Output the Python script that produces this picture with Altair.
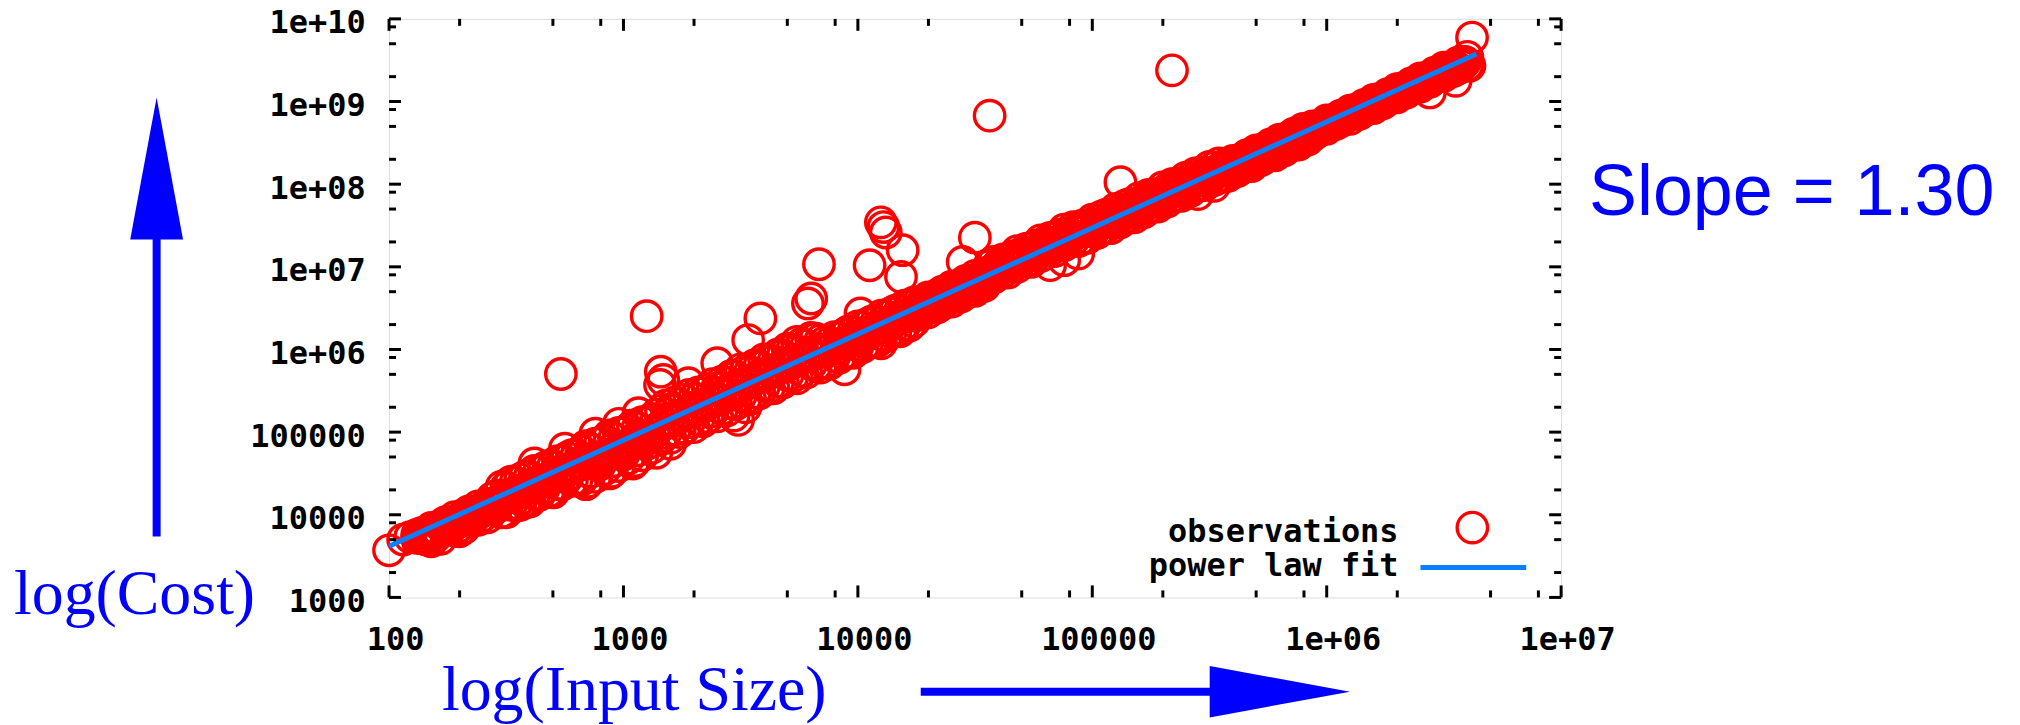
import altair as alt
import pandas as pd

# ---------------- data (log10 units) ----------------
# dense band of observations: one column every 0.02 decade of input size,
# with an upper and a lower reading of the cost per column
band_log_size = [
    2.12, 2.14, 2.16, 2.18, 2.20, 2.22, 2.24, 2.26, 2.28, 2.30,
    2.32, 2.34, 2.36, 2.38, 2.40, 2.42, 2.44, 2.46, 2.48, 2.50,
    2.52, 2.54, 2.56, 2.58, 2.60, 2.62, 2.64, 2.66, 2.68, 2.70,
    2.72, 2.74, 2.76, 2.78, 2.80, 2.82, 2.84, 2.86, 2.88, 2.90,
    2.92, 2.94, 2.96, 2.98, 3.00, 3.02, 3.04, 3.06, 3.08, 3.10,
    3.12, 3.14, 3.16, 3.18, 3.20, 3.22, 3.24, 3.26, 3.28, 3.30,
    3.32, 3.34, 3.36, 3.38, 3.40, 3.42, 3.44, 3.46, 3.48, 3.50,
    3.52, 3.54, 3.56, 3.58, 3.60, 3.62, 3.64, 3.66, 3.68, 3.70,
    3.72, 3.74, 3.76, 3.78, 3.80, 3.82, 3.84, 3.86, 3.88, 3.90,
    3.92, 3.94, 3.96, 3.98, 4.00, 4.02, 4.04, 4.06, 4.08, 4.10,
    4.12, 4.14, 4.16, 4.18, 4.20, 4.22, 4.24, 4.26, 4.28, 4.30,
    4.32, 4.34, 4.36, 4.38, 4.40, 4.42, 4.44, 4.46, 4.48, 4.50,
    4.52, 4.54, 4.56, 4.58, 4.60, 4.62, 4.64, 4.66, 4.68, 4.70,
    4.72, 4.74, 4.76, 4.78, 4.80, 4.82, 4.84, 4.86, 4.88, 4.90,
    4.92, 4.94, 4.96, 4.98, 5.00, 5.02, 5.04, 5.06, 5.08, 5.10,
    5.12, 5.14, 5.16, 5.18, 5.20, 5.22, 5.24, 5.26, 5.28, 5.30,
    5.32, 5.34, 5.36, 5.38, 5.40, 5.42, 5.44, 5.46, 5.48, 5.50,
    5.52, 5.54, 5.56, 5.58, 5.60, 5.62, 5.64, 5.66, 5.68, 5.70,
    5.72, 5.74, 5.76, 5.78, 5.80, 5.82, 5.84, 5.86, 5.88, 5.90,
    5.92, 5.94, 5.96, 5.98, 6.00, 6.02, 6.04, 6.06, 6.08, 6.10,
    6.12, 6.14, 6.16, 6.18, 6.20, 6.22, 6.24, 6.26, 6.28, 6.30,
    6.32, 6.34, 6.36, 6.38, 6.40, 6.42, 6.44, 6.46, 6.48, 6.50,
    6.52, 6.54, 6.56, 6.58, 6.60,
]
band_log_cost_upper = [
    3.76, 3.78, 3.78, 3.84, 3.83, 3.87, 3.91, 3.91, 3.97, 3.95,
    4.00, 4.04, 4.04, 4.10, 4.08, 4.13, 4.20, 4.23, 4.34, 4.33,
    4.40, 4.39, 4.43, 4.46, 4.46, 4.53, 4.52, 4.56, 4.59, 4.59,
    4.65, 4.65, 4.69, 4.72, 4.72, 4.77, 4.83, 4.79, 4.86, 4.87,
    4.90, 4.96, 4.92, 4.99, 4.99, 5.03, 5.08, 5.05, 5.12, 5.12,
    5.16, 5.21, 5.26, 5.32, 5.27, 5.36, 5.34, 5.39, 5.45, 5.40,
    5.48, 5.47, 5.52, 5.58, 5.53, 5.61, 5.60, 5.68, 5.67, 5.76,
    5.74, 5.73, 5.81, 5.80, 5.88, 5.87, 5.86, 5.94, 5.93, 6.01,
    6.00, 5.98, 6.07, 6.05, 6.14, 6.13, 6.11, 6.09, 6.08, 6.15,
    6.14, 6.18, 6.22, 6.21, 6.28, 6.27, 6.31, 6.34, 6.34, 6.41,
    6.40, 6.44, 6.47, 6.47, 6.53, 6.53, 6.57, 6.57, 6.58, 6.63,
    6.62, 6.66, 6.70, 6.71, 6.76, 6.75, 6.79, 6.83, 6.83, 6.89,
    6.87, 6.92, 7.01, 7.06, 7.03, 7.09, 7.09, 7.13, 7.19, 7.16,
    7.22, 7.22, 7.26, 7.32, 7.28, 7.35, 7.35, 7.39, 7.45, 7.41,
    7.48, 7.47, 7.50, 7.50, 7.57, 7.56, 7.61, 7.63, 7.62, 7.70,
    7.69, 7.74, 7.76, 7.75, 7.83, 7.81, 7.87, 7.88, 7.88, 7.96,
    7.94, 8.00, 8.01, 8.01, 8.08, 8.07, 8.13, 8.14, 8.14, 8.21,
    8.20, 8.25, 8.22, 8.22, 8.28, 8.28, 8.31, 8.35, 8.34, 8.41,
    8.41, 8.44, 8.48, 8.47, 8.54, 8.53, 8.57, 8.61, 8.60, 8.67,
    8.66, 8.70, 8.70, 8.71, 8.77, 8.77, 8.78, 8.83, 8.84, 8.89,
    8.90, 8.90, 8.96, 8.97, 9.02, 9.03, 9.03, 9.09, 9.09, 9.15,
    9.16, 9.16, 9.22, 9.22, 9.28, 9.28, 9.29, 9.35, 9.35, 9.41,
    9.41, 9.42, 9.47, 9.48, 9.54,
]
band_log_cost_lower = [
    3.72, 3.72, 3.70, 3.68, 3.74, 3.71, 3.83, 3.83, 3.81, 3.86,
    3.84, 3.96, 3.96, 3.94, 3.99, 3.97, 4.08, 4.09, 4.03, 4.03,
    4.12, 4.11, 4.19, 4.15, 4.16, 4.25, 4.24, 4.32, 4.28, 4.29,
    4.37, 4.37, 4.45, 4.41, 4.42, 4.42, 4.37, 4.52, 4.46, 4.61,
    4.55, 4.50, 4.65, 4.59, 4.73, 4.68, 4.62, 4.78, 4.72, 4.86,
    4.81, 4.75, 4.92, 4.99, 4.93, 5.03, 5.00, 5.05, 5.12, 5.06,
    5.15, 5.13, 5.18, 5.25, 5.19, 5.28, 5.26, 5.35, 5.34, 5.44,
    5.41, 5.40, 5.48, 5.47, 5.56, 5.54, 5.53, 5.61, 5.60, 5.69,
    5.67, 5.65, 5.74, 5.72, 5.82, 5.80, 5.78, 5.84, 5.83, 5.92,
    5.90, 5.95, 5.97, 5.96, 6.05, 6.03, 6.08, 6.09, 6.09, 6.18,
    6.16, 6.21, 6.22, 6.22, 6.30, 6.29, 6.34, 6.42, 6.47, 6.45,
    6.51, 6.51, 6.55, 6.60, 6.58, 6.64, 6.64, 6.68, 6.72, 6.71,
    6.76, 6.77, 6.89, 6.87, 6.96, 6.94, 6.93, 7.01, 7.00, 7.09,
    7.07, 7.06, 7.14, 7.13, 7.21, 7.20, 7.19, 7.27, 7.26, 7.34,
    7.33, 7.31, 7.35, 7.35, 7.43, 7.41, 7.46, 7.48, 7.47, 7.56,
    7.54, 7.59, 7.61, 7.60, 7.69, 7.66, 7.72, 7.73, 7.73, 7.82,
    7.79, 7.85, 7.86, 7.86, 7.94, 7.92, 7.98, 7.99, 7.99, 8.07,
    8.05, 8.10, 8.09, 8.10, 8.16, 8.16, 8.20, 8.22, 8.22, 8.29,
    8.29, 8.33, 8.35, 8.35, 8.42, 8.41, 8.46, 8.48, 8.48, 8.55,
    8.54, 8.59, 8.63, 8.68, 8.67, 8.72, 8.73, 8.76, 8.81, 8.79,
    8.85, 8.85, 8.89, 8.94, 8.92, 8.98, 8.98, 9.02, 9.06, 9.05,
    9.11, 9.11, 9.15, 9.19, 9.18, 9.23, 9.24, 9.28, 9.32, 9.31,
    9.36, 9.37, 9.40, 9.45, 9.44,
]
# staggered columns between the ones above, one reading near the middle of the band
mid_log_size = [
    2.13, 2.15, 2.17, 2.19, 2.21, 2.23, 2.25, 2.27, 2.29, 2.31,
    2.33, 2.35, 2.37, 2.39, 2.41, 2.43, 2.45, 2.47, 2.49, 2.51,
    2.53, 2.55, 2.57, 2.59, 2.61, 2.63, 2.65, 2.67, 2.69, 2.71,
    2.73, 2.75, 2.77, 2.79, 2.81, 2.83, 2.85, 2.87, 2.89, 2.91,
    2.93, 2.95, 2.97, 2.99, 3.01, 3.03, 3.05, 3.07, 3.09, 3.11,
    3.13, 3.15, 3.17, 3.19, 3.21, 3.23, 3.25, 3.27, 3.29, 3.31,
    3.33, 3.35, 3.37, 3.39, 3.41, 3.43, 3.45, 3.47, 3.49, 3.51,
    3.53, 3.55, 3.57, 3.59, 3.61, 3.63, 3.65, 3.67, 3.69, 3.71,
    3.73, 3.75, 3.77, 3.79, 3.81, 3.83, 3.85, 3.87, 3.89, 3.91,
    3.93, 3.95, 3.97, 3.99, 4.01, 4.03, 4.05, 4.07, 4.09, 4.11,
    4.13, 4.15, 4.17, 4.19, 4.21, 4.23, 4.25, 4.27, 4.29, 4.31,
    4.33, 4.35, 4.37, 4.39, 4.41, 4.43, 4.45, 4.47, 4.49, 4.51,
    4.53, 4.55, 4.57, 4.59, 4.61, 4.63, 4.65, 4.67, 4.69, 4.71,
    4.73, 4.75, 4.77, 4.79, 4.81, 4.83, 4.85, 4.87, 4.89, 4.91,
    4.93, 4.95, 4.97, 4.99, 5.01, 5.03, 5.05, 5.07, 5.09, 5.11,
    5.13, 5.15, 5.17, 5.19, 5.21, 5.23, 5.25, 5.27, 5.29, 5.31,
    5.33, 5.35, 5.37, 5.39, 5.41, 5.43, 5.45, 5.47, 5.49, 5.51,
    5.53, 5.55, 5.57, 5.59, 5.61, 5.63, 5.65, 5.67, 5.69, 5.71,
    5.73, 5.75, 5.77, 5.79, 5.81, 5.83, 5.85, 5.87, 5.89, 5.91,
    5.93, 5.95, 5.97, 5.99, 6.01, 6.03, 6.05, 6.07, 6.09, 6.11,
    6.13, 6.15, 6.17, 6.19, 6.21, 6.23, 6.25, 6.27, 6.29, 6.31,
    6.33, 6.35, 6.37, 6.39, 6.41, 6.43, 6.45, 6.47, 6.49, 6.51,
    6.53, 6.55, 6.57, 6.59,
]
mid_log_cost = [
    3.72, 3.71, 3.78, 3.77, 3.81, 3.85, 3.84, 3.91, 3.90, 3.94,
    3.97, 3.97, 4.03, 4.03, 4.07, 4.10, 4.10, 4.16, 4.20, 4.24,
    4.23, 4.29, 4.29, 4.33, 4.37, 4.36, 4.41, 4.42, 4.46, 4.50,
    4.49, 4.54, 4.55, 4.58, 4.63, 4.61, 4.66, 4.63, 4.69, 4.69,
    4.73, 4.79, 4.76, 4.82, 4.82, 4.86, 4.92, 4.88, 4.95, 4.94,
    4.99, 5.05, 5.10, 5.16, 5.13, 5.20, 5.19, 5.23, 5.29, 5.26,
    5.33, 5.32, 5.36, 5.41, 5.39, 5.46, 5.45, 5.53, 5.57, 5.56,
    5.61, 5.62, 5.66, 5.70, 5.69, 5.74, 5.75, 5.78, 5.83, 5.82,
    5.87, 5.88, 5.91, 5.96, 5.94, 6.00, 6.00, 5.98, 6.03, 6.01,
    6.07, 6.07, 6.11, 6.15, 6.14, 6.20, 6.20, 6.24, 6.28, 6.27,
    6.32, 6.33, 6.37, 6.41, 6.40, 6.45, 6.46, 6.50, 6.55, 6.54,
    6.59, 6.60, 6.63, 6.68, 6.66, 6.72, 6.73, 6.76, 6.81, 6.79,
    6.85, 6.85, 6.95, 6.99, 6.98, 7.04, 7.04, 7.08, 7.12, 7.11,
    7.16, 7.17, 7.21, 7.25, 7.24, 7.29, 7.30, 7.33, 7.38, 7.37,
    7.42, 7.43, 7.43, 7.48, 7.46, 7.52, 7.53, 7.56, 7.61, 7.59,
    7.65, 7.65, 7.69, 7.74, 7.72, 7.78, 7.78, 7.82, 7.86, 7.85,
    7.91, 7.91, 7.95, 7.99, 7.98, 8.03, 8.04, 8.07, 8.12, 8.11,
    8.16, 8.17, 8.16, 8.21, 8.19, 8.25, 8.26, 8.29, 8.34, 8.32,
    8.38, 8.38, 8.42, 8.47, 8.45, 8.51, 8.51, 8.55, 8.59, 8.58,
    8.64, 8.64, 8.68, 8.71, 8.72, 8.77, 8.78, 8.81, 8.84, 8.85,
    8.90, 8.91, 8.93, 8.97, 8.97, 9.03, 9.04, 9.06, 9.10, 9.10,
    9.16, 9.16, 9.19, 9.23, 9.23, 9.29, 9.29, 9.32, 9.35, 9.36,
    9.42, 9.42, 9.45, 9.48,
]
# scattered observations: ragged band edges and the outliers
extra_log_size = [
    2.00, 2.06, 2.09, 2.30, 2.56, 2.70, 2.85, 2.95, 3.05, 3.20,
    3.47, 3.52, 2.62, 2.75, 2.88, 2.98, 4.82, 4.88, 4.94, 5.45,
    5.52, 6.44, 6.55,
    2.733, 3.099, 3.159, 3.156, 3.170, 3.277, 3.064, 3.400, 3.532, 3.584,
    3.740, 3.834, 3.801, 3.787, 3.943, 4.011, 4.050, 4.109, 4.098, 4.119,
    4.191, 4.184, 4.099, 4.499, 4.447, 3.489, 5.120, 4.562, 5.340, 6.620,
    6.609,
]
extra_log_cost = [
    3.57, 3.70, 3.73, 3.80, 4.12, 4.27, 4.40, 4.52, 4.65, 4.86,
    5.20, 5.30, 4.62, 4.80, 4.98, 5.10, 7.02, 7.08, 7.16, 7.88,
    7.98, 9.11, 9.25,
    5.703, 6.403, 5.731, 5.571, 5.631, 5.591, 5.229, 5.833, 6.114, 6.376,
    6.093, 7.031, 6.617, 6.557, 5.760, 6.436, 7.019, 7.481, 7.538, 7.415,
    7.201, 6.878, 6.074, 7.353, 7.059, 5.148, 8.024, 8.829, 9.377, 9.774,
    9.433,
]

# power law fit (end points)
fit_size = [100, 4350000]
fit_cost = [4160, 3750000000]

# axes
x_tick_values = [100, 1000, 10000, 100000, 1000000, 10000000]
x_tick_labels = ["100", "1000", "10000", "100000", "1e+06", "1e+07"]
y_tick_values = [1000, 10000, 100000, 1000000, 10000000, 100000000,
                 1000000000, 10000000000]
y_tick_labels = ["1000", "10000", "100000", "1e+06", "1e+07", "1e+08",
                 "1e+09", "1e+10"]
x_minor_values = [200, 500, 800, 2000, 5000, 8000, 20000, 50000, 80000,
                  200000, 500000, 800000, 2000000, 5000000, 8000000]
y_minor_values = [2000, 5000, 8000, 20000, 50000, 80000, 200000, 500000,
                  800000, 2000000, 5000000, 8000000, 20000000, 50000000,
                  80000000, 200000000, 500000000, 800000000, 2000000000,
                  5000000000, 8000000000]

legend_labels = ["observations", "power law fit"]
cost_label = ["log(Cost)"]
size_label = ["log(Input Size)"]
slope_label = ["Slope = 1.30"]

# ---------------- chart ----------------
W, H = 1175, 580
RED = "#ff0000"
FIT = "#0a80ff"
BLUE = "#0000ff"
MONO = "DejaVu Sans Mono"
RING = 930
RING_W = 3.4

all_size = band_log_size + band_log_size + mid_log_size + extra_log_size
all_cost = band_log_cost_upper + band_log_cost_lower + mid_log_cost + extra_log_cost
obs = pd.DataFrame({
    "size": [10 ** v for v in all_size],
    "cost": [10 ** v for v in all_cost],
})
fit_df = pd.DataFrame({"size": fit_size, "cost": fit_cost})

xs = alt.Scale(type="log", domain=[100, 10000000], nice=False)
ys = alt.Scale(type="log", domain=[1000, 10000000000], nice=False)


def label_expr(vals, labs):
    e = "''"
    for v, t in reversed(list(zip(vals, labs))):
        e = f"datum.value == {int(v)} ? '{t}' : ({e})"
    return e


common_axis = dict(title=None, grid=False, ticks=False, tickSize=0, domain=False,
                   labelFont=MONO, labelFontWeight="bold", labelFontSize=32,
                   labelColor="black", labelFlush=False, labelOverlap=False,
                   labelBound=False)
xaxis = alt.Axis(values=x_tick_values, labelExpr=label_expr(x_tick_values, x_tick_labels),
                 labelPadding=27, labelOffset=6, **common_axis)
yaxis = alt.Axis(values=y_tick_values, labelExpr=label_expr(y_tick_values, y_tick_labels),
                 labelPadding=24, labelOffset=4, **common_axis)

X = lambda f: alt.X(f, scale=xs, axis=xaxis)
Y = lambda f: alt.Y(f, scale=ys, axis=yaxis)

points = alt.Chart(obs).mark_point(
    shape="circle", filled=False, size=RING, strokeWidth=RING_W, color=RED, opacity=1
).encode(x=X("size:Q"), y=Y("cost:Q"))

fit_line = alt.Chart(fit_df).mark_line(color=FIT, strokeWidth=5).encode(
    x=X("size:Q"), y=Y("cost:Q"))

layers = [points, fit_line]


def xticks(values, length):
    df = pd.DataFrame({"v": values})
    base = alt.Chart(df).mark_rule(color="black", strokeWidth=3)
    return [
        base.encode(x=X("v:Q"), y=alt.value(H), y2=alt.value(H - length)),
        base.encode(x=X("v:Q"), y=alt.value(0), y2=alt.value(length)),
    ]


def yticks(values, length):
    df = pd.DataFrame({"v": values})
    base = alt.Chart(df).mark_rule(color="black", strokeWidth=3)
    return [
        base.encode(y=Y("v:Q"), x=alt.value(0), x2=alt.value(length)),
        base.encode(y=Y("v:Q"), x=alt.value(W), x2=alt.value(W - length)),
    ]


layers += xticks(x_tick_values, 12) + xticks(x_minor_values, 7)
layers += yticks(y_tick_values, 12) + yticks(y_minor_values, 7)

one = pd.DataFrame({"a": [0]})


def text_layer(txt, x, y, font, size, color, align="left", weight="normal"):
    return alt.Chart(pd.DataFrame({"t": txt})).mark_text(
        font=font, fontSize=size, color=color, align=align, baseline="alphabetic",
        fontWeight=weight
    ).encode(text="t:N", x=alt.value(x), y=alt.value(y))


# legend
layers.append(text_layer([legend_labels[0]], 1012, 524, MONO, 32, "black", "right", "bold"))
layers.append(text_layer([legend_labels[1]], 1012, 559, MONO, 32, "black", "right", "bold"))
layers.append(alt.Chart(one).mark_point(
    shape="circle", filled=False, size=RING, strokeWidth=RING_W, color=RED, opacity=1
).encode(x=alt.value(1086), y=alt.value(510)))
layers.append(alt.Chart(one).mark_rule(color=FIT, strokeWidth=5).encode(
    x=alt.value(1034), x2=alt.value(1140), y=alt.value(550)))

# annotations
layers.append(text_layer(cost_label, -376, 597, "Liberation Serif", 64, BLUE))
layers.append(text_layer(size_label, 53, 693, "Liberation Serif", 64, BLUE))
layers.append(text_layer(slope_label, 1203, 197, "Liberation Sans", 72, BLUE))

# vertical arrow
layers.append(alt.Chart(one).mark_rule(color=BLUE, strokeWidth=8).encode(
    x=alt.value(-233), y=alt.value(200), y2=alt.value(519)))
layers.append(alt.Chart(one).mark_point(
    shape="M0,-1L0.372,1L-0.372,1Z", filled=True, size=20278, color=BLUE,
    opacity=1, strokeWidth=0
).encode(x=alt.value(-233), y=alt.value(150)))
# horizontal arrow
layers.append(alt.Chart(one).mark_rule(color=BLUE, strokeWidth=8).encode(
    x=alt.value(533), x2=alt.value(840), y=alt.value(674.5)))
layers.append(alt.Chart(one).mark_point(
    shape="M1,0L-1,-0.367L-1,0.367Z", filled=True, size=19768, color=BLUE,
    opacity=1, strokeWidth=0
).encode(x=alt.value(893), y=alt.value(674.5)))

chart = alt.layer(*layers).properties(
    width=W, height=H,
    padding={"left": 382, "top": 10, "right": 452, "bottom": 127},
    autosize=alt.AutoSizeParams(type="none"),
).configure_view(stroke="black", strokeWidth=3).configure(background="white")

chart.save("out.html", embed_options={"renderer": "svg", "actions": False})
